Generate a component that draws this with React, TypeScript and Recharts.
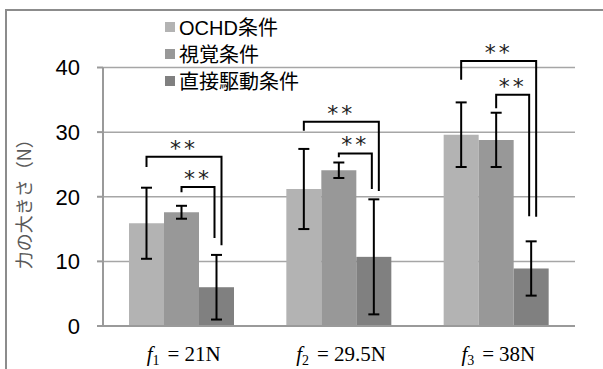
import { BarChart, Bar, XAxis, YAxis, CartesianGrid, ErrorBar, Legend } from "recharts";

// 条件ごとの平均値と標準偏差
const forces = ["21N", "29.5N", "38N"];
const subscripts = ["1", "2", "3"];
const ochd = [15.9, 21.2, 29.6];
const ochdErr = [5.5, 6.2, 5.0];
const visual = [17.6, 24.1, 28.8];
const visualErr = [1.0, 1.2, 4.2];
const direct = [6.0, 10.7, 8.9];
const directErr = [5.0, 8.9, 4.2];
const yTicks = [0, 10, 20, 30, 40];
const seriesNames = ["OCHD条件", "視覚条件", "直接駆動条件"];

// 有意差ブラケット [左脚の下端, 上辺, 右脚の下端]
const outerBracket = [
  [24.6, 26.2, 12.5],
  [30.2, 31.6, 20.9],
  [38.1, 41.0, 16.9],
];
const innerBracket = [
  [20.7, 21.5, 13.6],
  [26.1, 26.7, 21.2],
  [33.7, 35.8, 17.0],
];
const sigMark = "**";

const data = forces.map((f, i) => ({
  force: f,
  ochd: ochd[i],
  ochdErr: ochdErr[i],
  visual: visual[i],
  visualErr: visualErr[i],
  direct: direct[i],
  directErr: directErr[i],
}));

const sans = '"Liberation Sans", Arial, "Noto Sans CJK JP", sans-serif';
const axisColor = "#9A9A9A";

function XTick(props: any) {
  const { x, y, index } = props;
  return (
    <text
      x={x + 2}
      y={y + 27}
      textAnchor="middle"
      fontFamily='"Liberation Serif", serif'
      fontSize={21}
      fill="#000"
    >
      <tspan fontStyle="italic">f</tspan>
      <tspan fontSize={14} dy={4}>
        {subscripts[index]}
      </tspan>
      <tspan dy={-4} dx={8}>
        =
      </tspan>
      <tspan dx={5}>{forces[index]}</tspan>
    </text>
  );
}

function Stars({ x, y }: { x: number; y: number }) {
  return (
    <text
      x={x}
      y={y}
      textAnchor="middle"
      fontFamily='"DejaVu Sans", sans-serif'
      fontSize={22}
      letterSpacing={3}
      fill="#222"
    >
      {sigMark}
    </text>
  );
}

function DirectShape(props: any) {
  const { x, y, width, height, fill, index } = props;
  const k = height / direct[index];
  const base = y + height;
  const py = (v: number) => base - v * k;
  const c1 = x - 1.5 * width;
  const c2 = x - 0.5 * width;
  const c3 = x + 0.5 * width;
  const o = outerBracket[index];
  const n = innerBracket[index];
  const oR = c3 + 5;
  const nR = c3 - 2;
  return (
    <g>
      <rect x={x} y={y} width={width} height={height} fill={fill} />
      <path
        d={`M${c1},${py(o[0])}V${py(o[1])}H${oR}V${py(o[2])}`}
        fill="none"
        stroke="#000"
        strokeWidth={2}
      />
      <path
        d={`M${c2},${py(n[0])}V${py(n[1])}H${nR}V${py(n[2])}`}
        fill="none"
        stroke="#000"
        strokeWidth={2}
      />
      <Stars x={(c1 + oR) / 2} y={py(o[1]) - 1} />
      <Stars x={(c2 + nR) / 2} y={py(n[1]) - 1} />
    </g>
  );
}

function LegendBox(props: any) {
  const items = [...(props.payload || [])].sort(
    (a: any, b: any) => seriesNames.indexOf(a.value) - seriesNames.indexOf(b.value)
  );
  return (
    <div style={{ fontFamily: sans, fontSize: 20, color: "#000" }}>
      {items.map((e: any) => (
        <div key={e.value} style={{ display: "flex", alignItems: "center", height: 27, whiteSpace: "nowrap" }}>
          <span style={{ width: 10, height: 10, background: e.color, marginRight: 4, display: "inline-block" }} />
          <span>{e.value}</span>
        </div>
      ))}
    </div>
  );
}

function YLabel(props: any) {
  const { viewBox } = props;
  const cy = viewBox.y + viewBox.height / 2 + 3;
  return (
    <text
      x={23}
      y={cy}
      transform={`rotate(-90, 23, ${cy})`}
      textAnchor="middle"
      dominantBaseline="central"
      fontFamily='"Noto Sans CJK JP", sans-serif'
      fontSize={18}
      fill="#595959"
    >
      力の大きさ（N）
    </text>
  );
}

export default function App() {
  return (
    <div
      style={{
        position: "absolute",
        left: 0,
        top: 0,
        width: 603,
        height: 369,
        overflow: "hidden",
        background: "#fff",
      }}
    >
      <div
        style={{
          position: "absolute",
          left: 5,
          top: 9,
          width: 640,
          height: 420,
          border: "2px solid #8C8C8C",
        }}
      />
      <div style={{ position: "absolute", left: 0, top: 0 }}>
        <BarChart
          width={603}
          height={369}
          data={data}
          margin={{ top: 67.5, right: 28, bottom: 13, left: 0 }}
          barGap={0}
          barSize={35}
        >
          <CartesianGrid vertical={false} stroke="#A6A6A6" strokeWidth={1.5} />
          <XAxis
            dataKey="force"
            height={30}
            tickLine={false}
            axisLine={{ stroke: axisColor, strokeWidth: 2 }}
            tick={<XTick />}
            interval={0}
          />
          <YAxis
            width={103}
            domain={[0, 40]}
            ticks={yTicks}
            tickSize={6}
            tickMargin={17}
            axisLine={{ stroke: axisColor, strokeWidth: 2 }}
            tickLine={{ stroke: axisColor, strokeWidth: 2 }}
            tick={{ fontSize: 22, fill: "#000", fontFamily: sans }}
            label={<YLabel />}
          />
          <Legend
            layout="vertical"
            align="center"
            verticalAlign="middle"
            content={<LegendBox />}
            wrapperStyle={{ left: 165, top: 13, width: "auto" }}
          />
          <Bar dataKey="ochd" name={seriesNames[0]} fill="#B3B3B3" isAnimationActive={false}>
            <ErrorBar dataKey="ochdErr" width={5.5} stroke="#000" strokeWidth={2} isAnimationActive={false} />
          </Bar>
          <Bar dataKey="visual" name={seriesNames[1]} fill="#989898" isAnimationActive={false}>
            <ErrorBar dataKey="visualErr" width={5.5} stroke="#000" strokeWidth={2} isAnimationActive={false} />
          </Bar>
          <Bar
            dataKey="direct"
            name={seriesNames[2]}
            fill="#808080"
            shape={<DirectShape />}
            isAnimationActive={false}
          >
            <ErrorBar dataKey="directErr" width={5.5} stroke="#000" strokeWidth={2} isAnimationActive={false} />
          </Bar>
        </BarChart>
      </div>
    </div>
  );
}
